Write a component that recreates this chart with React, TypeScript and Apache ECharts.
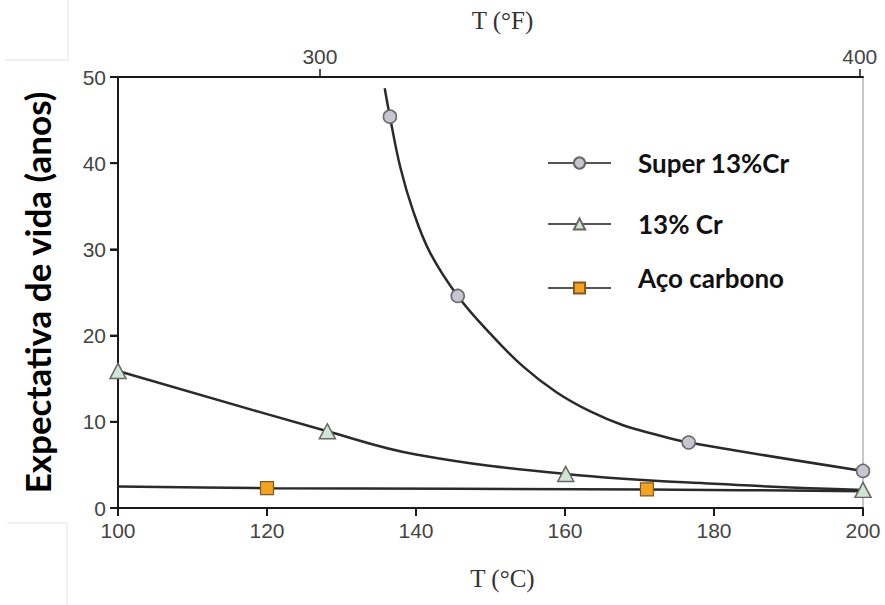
import React, { useEffect, useRef } from "react";
import * as echarts from "echarts";

// Temperature (°C) and life expectancy (years).
// "marked" = 1 where the original shows a marker, 0 where the point only shapes the curve.
const super13Temp = [135.8, 136.5, 137.9, 139.6, 141.9, 145.6, 150.0, 154.4, 158.9, 163.4, 167.8, 172.3, 176.6, 200];
const super13Life = [48.7, 45.4, 39.5, 34.5, 29.6, 24.6, 20.2, 16.4, 13.4, 11.2, 9.6, 8.5, 7.6, 4.3];
const super13Marked = [0, 1, 0, 0, 0, 1, 0, 0, 0, 0, 0, 0, 1, 1];

const cr13Temp = [100, 128.1, 140, 160.1, 180, 200];
const cr13Life = [15.9, 8.9, 6.2, 3.95, 2.8, 2.1];
const cr13Marked = [1, 1, 0, 1, 0, 1];

const carbonTemp = [100, 120, 171, 200];
const carbonLife = [2.5, 2.3, 2.15, 1.95];
const carbonMarked = [0, 1, 1, 0];

const seriesNames = ["Super 13%Cr", "13% Cr", "Aço carbono"];
const celsiusTicks = [100, 120, 140, 160, 180, 200];
const lifeTicks = [0, 10, 20, 30, 40, 50];
const fahrenheitTicks = [300, 400];

const build = (xs: number[], ys: number[], marked: number[]) =>
  xs.map((x, i) => (marked[i] ? { value: [x, ys[i]] } : { value: [x, ys[i]], symbol: "none" }));

const mkLine = () => ({ show: true, onZero: false, lineStyle: { color: "#1a1a1a", width: 2 } });
const mkTick = (values: number[], width = 2) => ({
  show: true,
  inside: false,
  length: 8,
  customValues: values,
  lineStyle: { color: "#1a1a1a", width },
});

// tick marks placed through the axes' own scales, as thin rect symbols
const tickSeries = (dir: "x" | "y", data: number[][]) => ({
  type: "scatter",
  silent: true,
  clip: false,
  z: 10,
  xAxisIndex: 0,
  yAxisIndex: 0,
  data,
  symbol: "rect",
  symbolSize: dir === "x" ? [2, 8] : [8, 2],
  symbolOffset: dir === "x" ? [0, 4] : [-4, 0],
  itemStyle: { color: "#1a1a1a", opacity: 1 },
  emphasis: { disabled: true },
  tooltip: { show: false },
});

export default function App() {
  const ref = useRef<HTMLDivElement>(null);
  useEffect(() => {
    if (!ref.current) return;
    const chart = echarts.init(ref.current, undefined, { renderer: "svg" });
    const tickFont = { fontFamily: "Liberation Sans, Arial, sans-serif", fontSize: 21, color: "#444" };
    const lineCol = "#2a2a2a";
    const legendText = {
      fontFamily: "Lato, 'Open Sans', sans-serif",
      fontWeight: "bold",
      fontSize: 26,
      color: "#111",
      padding: [0, 0, 0, 22],
    };
    const legendBase = {
      orient: "vertical",
      left: 542,
      itemWidth: 63,
      itemHeight: 14,
      lineStyle: { color: "#555", width: 2 },
      textStyle: legendText,
    };
    chart.setOption({
      animation: false,
      backgroundColor: "#fff",
      grid: { left: 118, right: 22, top: 77, bottom: 97 },
      legend: [
        { ...legendBase, top: 145, data: [seriesNames[0]] },
        { ...legendBase, top: 206, data: [seriesNames[1]] },
        {
          ...legendBase,
          top: 260,
          data: [seriesNames[2]],
          formatter: "{t|{name}}",
          textStyle: {
            ...legendText,
            rich: {
              t: { ...legendText, padding: [0, 0, 20, 0] },
            },
          },
        },
      ],
      xAxis: [
        {
          type: "value",
          position: "bottom",
          min: 100,
          max: 200,
          name: "T (°C)",
          nameLocation: "middle",
          nameGap: 58,
          nameTextStyle: { fontFamily: "Liberation Serif, serif", fontSize: 25, color: "#333", padding: [0, 0, 0, 24] },
          axisLine: mkLine(),
          axisTick: mkTick(celsiusTicks),
          axisLabel: { ...tickFont, margin: 12, customValues: celsiusTicks },
          splitLine: { show: false },
        },
        {
          type: "value",
          position: "top",
          min: 262.6,
          max: 400.6,
          name: "T (°F)",
          nameLocation: "middle",
          nameGap: 44,
          nameTextStyle: { fontFamily: "Liberation Serif, serif", fontSize: 25, color: "#333", padding: [0, 0, 0, 24] },
          axisLine: mkLine(),
          axisTick: mkTick(fahrenheitTicks, 1.5),
          axisLabel: { ...tickFont, margin: 10, customValues: fahrenheitTicks },
          splitLine: { show: false },
        },
      ],
      yAxis: [
        {
          type: "value",
          position: "left",
          min: 0,
          max: 50,
          name: "Expectativa de vida (anos)",
          nameLocation: "middle",
          nameRotate: 90,
          nameGap: 64,
          nameTextStyle: {
            fontFamily: "Lato, 'Open Sans', sans-serif",
            fontWeight: "bold",
            fontSize: 35,
            color: "#000",
          },
          axisLine: mkLine(),
          axisTick: mkTick(lifeTicks),
          axisLabel: { ...tickFont, margin: 12, customValues: lifeTicks },
          splitLine: { show: false },
        },
        {
          type: "value",
          position: "right",
          min: 0,
          max: 50,
          axisLine: { show: true, onZero: false, lineStyle: { color: "#b5b5b5", width: 1.5 } },
          axisTick: { show: false },
          axisLabel: { show: false },
          splitLine: { show: false },
        },
      ],
      series: [
        {
          name: seriesNames[0],
          type: "line",
          smooth: 0.4,
          data: build(super13Temp, super13Life, super13Marked),
          symbol: "circle",
          symbolSize: 13,
          showAllSymbol: true,
          lineStyle: { color: lineCol, width: 2.5 },
          itemStyle: { color: "#c6c6d0", borderColor: "#666", borderWidth: 1.5 },
        },
        {
          name: seriesNames[1],
          type: "line",
          smooth: 0.4,
          data: build(cr13Temp, cr13Life, cr13Marked),
          symbol: "triangle",
          symbolSize: [16, 15],
          showAllSymbol: true,
          lineStyle: { color: lineCol, width: 2.5 },
          itemStyle: { color: "#cfe6d6", borderColor: "#666", borderWidth: 1.5 },
        },
        {
          name: seriesNames[2],
          type: "line",
          smooth: 0.3,
          data: build(carbonTemp, carbonLife, carbonMarked),
          symbol: "rect",
          symbolSize: 13,
          showAllSymbol: true,
          lineStyle: { color: lineCol, width: 2.5 },
          itemStyle: { color: "#f5a31f", borderColor: "#7a5a25", borderWidth: 1.2 },
        },
        tickSeries("x", celsiusTicks.map((t) => [t, 0])),
        tickSeries("y", lifeTicks.map((t) => [100, t])),
      ],
      graphic: [
        { type: "line", shape: { x1: 68, y1: 0, x2: 68, y2: 60 }, style: { stroke: "#e2e2e2", lineWidth: 1 } },
        { type: "line", shape: { x1: 5, y1: 60, x2: 68, y2: 60 }, style: { stroke: "#e2e2e2", lineWidth: 1 } },
        { type: "line", shape: { x1: 67, y1: 523, x2: 67, y2: 605 }, style: { stroke: "#e2e2e2", lineWidth: 1 } },
        { type: "line", shape: { x1: 7, y1: 523, x2: 67, y2: 523 }, style: { stroke: "#e2e2e2", lineWidth: 1 } },
      ],
    });
    return () => chart.dispose();
  }, []);
  return (
    <div
      ref={ref}
      style={{ position: "fixed", left: 0, top: 0, width: 885, height: 605, background: "#fff" }}
    />
  );
}
